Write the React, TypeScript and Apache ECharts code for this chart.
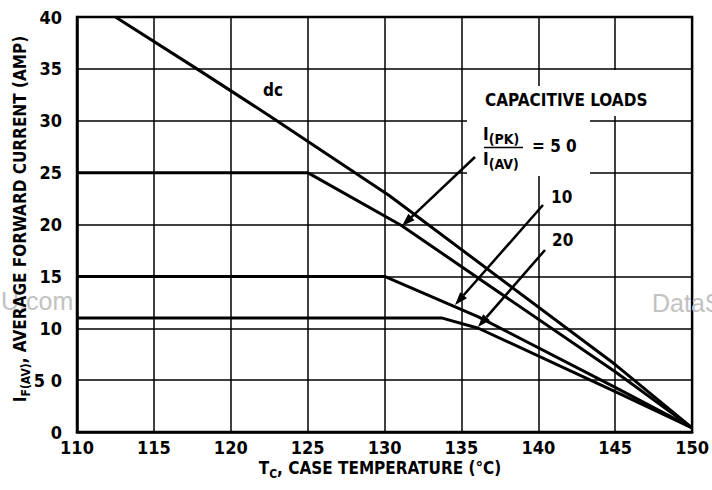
import React, { useEffect, useRef } from "react";
import * as echarts from "echarts";

// ---- data ----
const yTickLabels = ["0", "5 0", "10", "15", "20", "25", "30", "35", "40"];
const xTickValues = [110, 115, 120, 125, 130, 135, 140, 145, 150];

const dcX = [112.5, 117.8, 122.7, 130.3, 145, 150];
const dcY = [40, 35, 30.3, 22.8, 6.5, 0.4];

const r5X = [110, 125, 131.1, 145, 150];
const r5Y = [25, 25, 19.9, 5.8, 0.4];

const r10X = [110, 130, 136.1, 145, 150];
const r10Y = [15, 15, 11.1, 4.3, 0.4];

const r20X = [110, 133.7, 136.1, 145, 150];
const r20Y = [11, 11, 10.0, 3.9, 0.4];

const FONT = "'DejaVu Sans Condensed', 'Liberation Sans Narrow', 'Liberation Sans', sans-serif";

function pts(xs: number[], ys: number[]) {
  return xs.map((x, i) => [x, ys[i]]);
}

function arrow(x1: number, y1: number, x2: number, y2: number) {
  const dx = x2 - x1;
  const dy = y2 - y1;
  const len = Math.sqrt(dx * dx + dy * dy);
  const ux = dx / len;
  const uy = dy / len;
  const hl = 13;
  const hw = 4.5;
  const bx = x2 - hl * ux;
  const by = y2 - hl * uy;
  const nx = -uy;
  const ny = ux;
  return [
    {
      type: "line",
      z: 10,
      shape: { x1, y1, x2: bx, y2: by },
      style: { stroke: "#000", lineWidth: 2.5 },
    },
    {
      type: "polygon",
      z: 10,
      shape: {
        points: [
          [x2, y2],
          [bx + hw * nx, by + hw * ny],
          [bx - hw * nx, by - hw * ny],
        ],
      },
      style: { fill: "#000" },
    },
  ];
}

export default function App() {
  const ref = useRef<HTMLDivElement>(null);

  useEffect(() => {
    if (!ref.current) return;
    const chart = echarts.init(ref.current, undefined, { renderer: "svg" });

    const txt = (text: string, x: number, y: number, extra: any = {}) => ({
      type: "text",
      z: 10,
      x,
      y,
      style: {
        text,
        fill: "#000",
        font: `bold 17px ${FONT}`,
        align: "left",
        verticalAlign: "middle",
        ...extra,
      },
    });

    const lineSeries = (name: string, xs: number[], ys: number[]) => ({
      name,
      type: "line",
      data: pts(xs, ys),
      symbol: "none",
      z: 5,
      lineStyle: { color: "#000", width: 3 },
      clip: true,
    });

    const richSub = {
      m: { font: `bold 17px ${FONT}`, fill: "#000", lineHeight: 24, verticalAlign: "middle" },
      s: { font: `bold 12px ${FONT}`, fill: "#000", lineHeight: 14, verticalAlign: "bottom" },
    };
    const richFrac = {
      m: { font: `bold 17px ${FONT}`, fill: "#000", lineHeight: 24, verticalAlign: "middle" },
      s: { font: `bold 14px ${FONT}`, fill: "#000", lineHeight: 16, verticalAlign: "bottom" },
    };

    const option: any = {
      animation: false,
      backgroundColor: "#fff",
      grid: {
        left: 77,
        right: 19,
        top: 17,
        bottom: 58,
        show: true,
        borderColor: "#000",
        borderWidth: 2.5,
        backgroundColor: "transparent",
      },
      xAxis: {
        type: "value",
        min: 110,
        max: 150,
        interval: 5,
        axisLine: { show: true, lineStyle: { color: "#000", width: 2.5 } },
        axisTick: { show: false },
        splitLine: { show: true, lineStyle: { color: "#000", width: 1.5 } },
        axisLabel: {
          color: "#000",
          fontFamily: FONT,
          fontWeight: "bold",
          fontSize: 18,
          margin: 6,
          formatter: (v: number) => (xTickValues.includes(v) ? String(v) : ""),
        },
      },
      yAxis: {
        type: "value",
        min: 0,
        max: 40,
        interval: 5,
        axisLine: { show: true, lineStyle: { color: "#000", width: 2.5 } },
        axisTick: { show: false },
        splitLine: { show: true, lineStyle: { color: "#000", width: 1.5 } },
        axisLabel: {
          color: "#000",
          fontFamily: FONT,
          fontWeight: "bold",
          fontSize: 18,
          margin: 15,
          formatter: (v: number) => yTickLabels[Math.round(v / 5)] ?? "",
        },
      },
      series: [
        lineSeries("dc", dcX, dcY),
        lineSeries("5.0", r5X, r5Y),
        lineSeries("10", r10X, r10Y),
        lineSeries("20", r20X, r20Y),
      ],
      graphic: [
        // white patches behind annotation text (gridlines are broken there)
        { type: "rect", z: 3, shape: { x: 467, y: 86, width: 123, height: 90 }, style: { fill: "#fff" } },
        { type: "rect", z: 3, shape: { x: 590, y: 86, width: 60, height: 30 }, style: { fill: "#fff" } },
        { type: "rect", z: 3, shape: { x: 600, y: 70, width: 30, height: 46 }, style: { fill: "#fff" } },
        // watermarks
        {
          type: "text",
          z: 4,
          x: 1,
          y: 301,
          style: {
            text: "U.com",
            fill: "#c2c2c2",
            font: "25px 'Liberation Sans', Arial, sans-serif",
            verticalAlign: "middle",
          },
        },
        {
          type: "text",
          z: 4,
          x: 652,
          y: 303,
          style: {
            text: "DataS",
            fill: "#c2c2c2",
            font: "25px 'Liberation Sans', Arial, sans-serif",
            verticalAlign: "middle",
          },
        },
        // y axis title
        {
          type: "text",
          z: 10,
          x: 20,
          y: 219,
          rotation: Math.PI / 2,
          style: {
            text: "{m|I}{s|F(AV)}{m|, AVERAGE FORWARD CURRENT (AMP)}",
            align: "center",
            verticalAlign: "middle",
            rich: richSub,
          },
        },
        // x axis title
        {
          type: "text",
          z: 10,
          x: 380,
          y: 468,
          style: {
            text: "{m|T}{s|C}{m|, CASE TEMPERATURE (°C)}",
            align: "center",
            verticalAlign: "middle",
            rich: richSub,
          },
        },
        // annotations
        txt("dc", 273, 90, { align: "center" }),
        txt("CAPACITIVE LOADS", 485, 100),
        {
          type: "text",
          z: 10,
          x: 483,
          y: 134,
          style: { text: "{m|I}{s|(PK)}", align: "left", verticalAlign: "middle", rich: richFrac },
        },
        {
          type: "line",
          z: 10,
          shape: { x1: 484, y1: 147.5, x2: 523, y2: 147.5 },
          style: { stroke: "#000", lineWidth: 1.5 },
        },
        {
          type: "text",
          z: 10,
          x: 483,
          y: 159,
          style: { text: "{m|I}{s|(AV)}", align: "left", verticalAlign: "middle", rich: richFrac },
        },
        txt("= 5 0", 532, 146),
        txt("10", 551, 197),
        txt("20", 552, 240),
        ...arrow(475, 157, 402, 226),
        ...arrow(543, 205, 455, 305),
        ...arrow(545, 250, 478, 327),
      ],
    };

    chart.setOption(option);
    return () => chart.dispose();
  }, []);

  return (
    <div
      ref={ref}
      style={{ position: "absolute", left: 0, top: 0, width: 712, height: 490, background: "#fff" }}
    />
  );
}
